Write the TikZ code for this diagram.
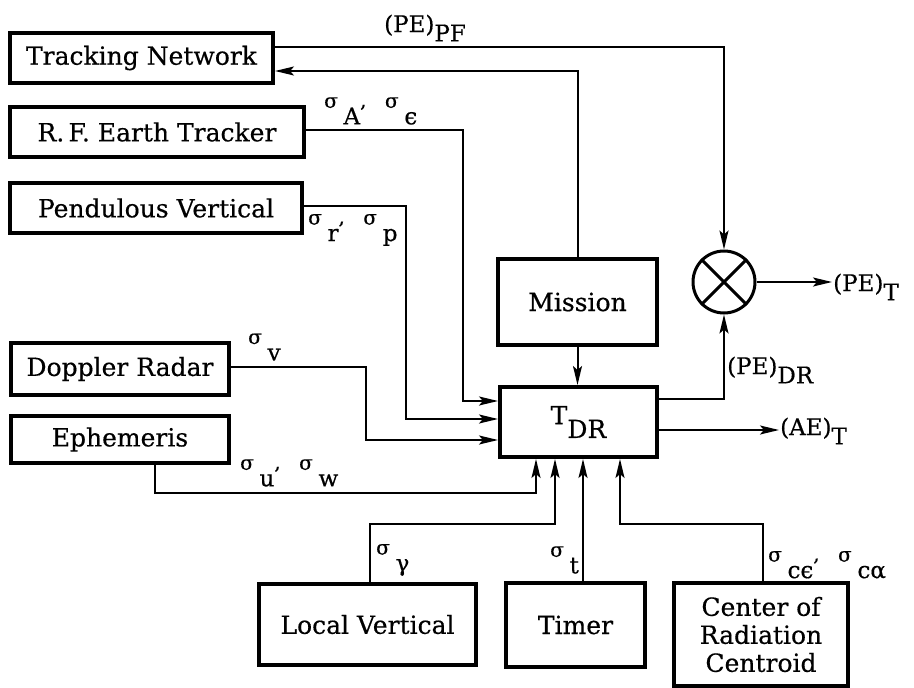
\documentclass[tikz,border=0pt]{standalone}
\usepackage{fontspec}
\setmainfont{DejaVu Serif}
\newfontfamily\boxfont{DejaVu Serif}[FakeBold=0.5]
\usetikzlibrary{arrows.meta}
\newcommand{\sgm}{\raisebox{0.42em}{\fontsize{20}{20}\selectfont σ}}
\newcommand{\sg}[1]{\sgm\hspace{0.25em}\raisebox{-0.3em}{#1}}
\newcommand{\rcm}{\raisebox{0.45em}{\fontsize{20}{20}\selectfont ,}\hspace{0.8em}}
\newcommand{\lowr}[1]{\raisebox{-0.4em}{#1}}
\begin{document}
\begin{tikzpicture}[x=1pt,y=-1pt,
  blk/.style={draw, line width=4pt, rectangle, inner sep=0pt, font=\boxfont\fontsize{25}{28}\selectfont, align=center},
  wire/.style={line width=2pt},
  arr/.style={wire, -{Stealth[length=19pt,width=9pt,inset=4pt]}},
  lbl/.style={inner sep=0pt, font=\boxfont\fontsize{23}{25}\selectfont}]
\useasboundingbox (0,0) rectangle (914,688);
% boxes
\node[blk, minimum width=263pt, minimum height=50pt] (tn) at (141.5,58) {Tracking Network};
\node[blk, minimum width=294pt, minimum height=50pt] (rf) at (157,132) {R.\,F. Earth Tracker};
\node[blk, minimum width=292pt, minimum height=50pt] (pv) at (156,208) {Pendulous Vertical};
\node[blk, minimum width=218pt, minimum height=52pt] (dr) at (120,369) {Doppler Radar};
\node[blk, minimum width=218pt, minimum height=47pt] (eph) at (120,439.5) {Ephemeris};
\node[blk, minimum width=159pt, minimum height=86pt] (mis) at (577.5,302) {Mission};
\node[blk, minimum width=157pt, minimum height=70pt] (tdr) at (578.5,422) {T\raisebox{-0.55em}{DR}};
\node[blk, minimum width=217pt, minimum height=81pt] (lv) at (367.5,624.5) {Local Vertical};
\node[blk, minimum width=139pt, minimum height=84pt] (tim) at (575.5,625) {Timer};
\node[blk, minimum width=174pt, minimum height=103pt] (crc) at (761,634.5) {Center of\\Radiation\\Centroid};
\node[draw, circle, line width=3pt, minimum size=62pt, inner sep=0pt] (sum) at (724,282) {};
\draw[line width=3pt] (sum.north west) -- (sum.south east) (sum.north east) -- (sum.south west);
% free ends
\coordinate (aeend) at (779,430);
\coordinate (peend) at (832,282);
% connectors
\draw[arr] ([yshift=11pt]tn.east) -| (sum.north);
\draw[arr] (mis.north) |- ([yshift=-13pt]tn.east);
\draw[arr] ([yshift=2pt]rf.east) -- (463,130) |- ([yshift=21pt]tdr.west);
\draw[arr] ([yshift=2pt]pv.east) -- (406,206) |- ([yshift=3pt]tdr.west);
\draw[arr] ([yshift=2pt]dr.east) -- (366,367) |- ([yshift=-18pt]tdr.west);
\draw[arr] ([xshift=35pt]eph.south) -- (155,493) -| ([xshift=-42.5pt]tdr.south);
\draw[arr] ([xshift=2.5pt]lv.north) -- (370,524) -| ([xshift=-23.5pt]tdr.south);
\draw[arr] ([xshift=7.5pt]tim.north) -- ([xshift=4.5pt]tdr.south);
\draw[arr] ([xshift=2pt]crc.north) -- (763,524) -| ([xshift=41.5pt]tdr.south);
\draw[arr] (mis.south) -- (mis.south |- tdr.north);
\draw[arr] ([yshift=23pt]tdr.east) -| (sum.south);
\draw[arr] ([yshift=-8pt]tdr.east) -- (aeend);
\draw[arr] (sum.east) -- (peend);
% labels
\node[lbl, anchor=west] (lpf) at (384,28) {(PE)\lowr{PF}};
\node[lbl, anchor=west] (lsa) at (324,111) {\sg{A}\rcm\sg{ϵ}};
\node[lbl, anchor=west] (lsr) at (308,230) {\sg{r}\rcm\sg{p}};
\node[lbl, anchor=west] (lsv) at (248,347) {\sg{v}};
\node[lbl, anchor=west] (lsu) at (240,473) {\sg{u}\rcm\sg{w}};
\node[lbl, anchor=west] (lsg) at (376,560) {\sg{γ}};
\node[lbl, anchor=west] (lst) at (550,560) {\sg{t}};
\node[lbl, anchor=west] (lsc) at (768,565) {\sg{cϵ}\rcm\sg{cα}};
\node[lbl, anchor=west] (lpdr) at (727,370) {(PE)\lowr{DR}};
\node[lbl, anchor=west] (laet) at (780,431) {(AE)\lowr{T}};
\node[lbl, anchor=west] (lpet) at (833,287) {(PE)\lowr{T}};
\end{tikzpicture}
\end{document}
